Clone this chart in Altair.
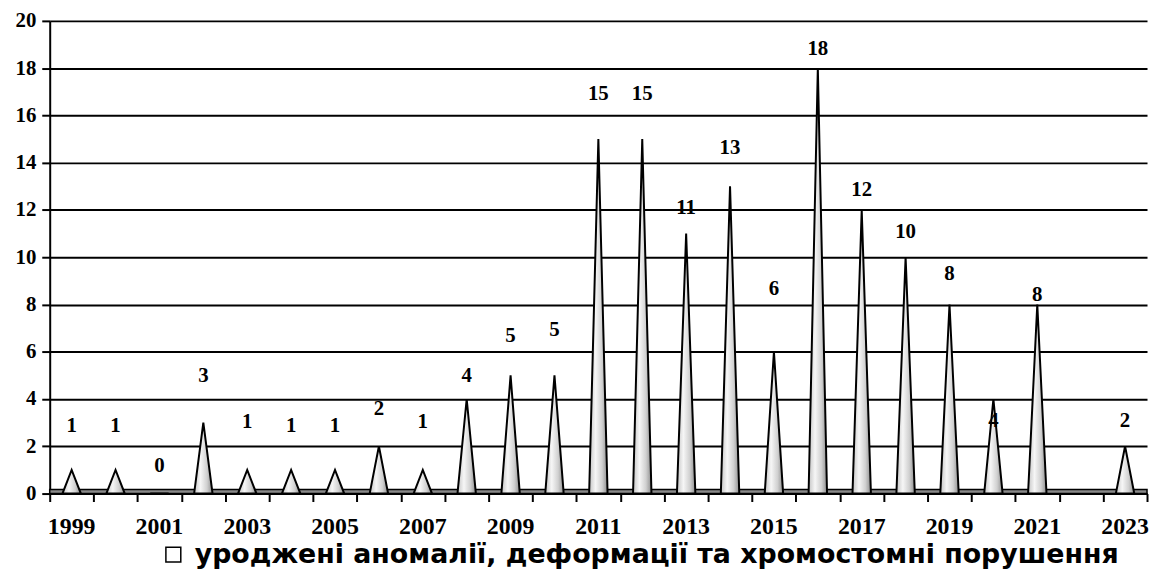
import altair as alt
import pandas as pd

years = list(range(1999, 2024))
values = [1, 1, 0, 3, 1, 1, 1, 2, 1, 4, 5, 5, 15, 15, 11, 13, 6, 18, 12, 10, 8, 4, 8, None, 2]
label_y = [2.87, 2.87, 1.18, 4.96, 3.02, 2.84, 2.84, 3.57, 3.02, 4.96, 6.68, 6.93, 16.9, 16.9,
           12.06, 14.6, 8.66, 18.8, 12.86, 11.05, 9.29, 3.07, 8.4, None, 3.08]
year_labels = [y for y in years if y % 2 == 1]
series_name = "уроджені аномалії, деформації та хромостомні порушення"

df = pd.DataFrame({"year": years, "value": values, "label_y": label_y})
df = df.dropna().copy()
df["series"] = series_name
df_years = pd.DataFrame({"year": year_labels})

SERIF = "Liberation Serif"
SANS = "DejaVu Sans"

half_ticks = [y - 0.5 for y in years] + [years[-1] + 0.5]

x_scale = alt.Scale(domain=[1998.5, 2023.5], nice=False, zero=False)
y_scale = alt.Scale(domain=[0, 20], nice=False)

x_axis = alt.Axis(
    values=half_ticks, labels=False,
    tickSize=8, tickWidth=2, tickColor="black",
    domainColor="black", domainWidth=2,
    grid=False, title=None,
)
y_axis = alt.Axis(
    values=list(range(0, 21, 2)),
    tickSize=8, tickWidth=2, tickColor="black",
    domainColor="black", domainWidth=2,
    labelFont=SERIF, labelFontWeight="bold", labelFontSize=21, labelColor="black",
    labelPadding=6, labelOverlap=False,
    grid=True, gridColor="black", gridWidth=2, gridOpacity=1,
    title=None,
)

base = alt.Chart(df)

floor = base.mark_rect(fill="#8a8a8a", stroke="black", strokeWidth=1.5).encode(
    x=alt.value(0), x2=alt.value(1105),
    y=alt.Y(datum=0, scale=y_scale, axis=y_axis), y2=alt.value(472),
).transform_filter("datum.year === 1999")

grad = alt.LinearGradient(
    gradient="linear",
    stops=[
        alt.GradientStop(color="#c4c4c4", offset=0),
        alt.GradientStop(color="#f6f6f6", offset=0.35),
        alt.GradientStop(color="#d0d0d0", offset=0.7),
        alt.GradientStop(color="#8e8e8e", offset=1),
    ],
    x1=0, x2=1, y1=0, y2=0,
)

cones = base.mark_area(fill=grad, stroke="black", strokeWidth=2, strokeJoin="miter").transform_calculate(
    k="[-1, 0, 1]"
).transform_flatten(["k"]).transform_calculate(
    xpos="datum.year + datum.k * 0.21",
    ypos="datum.k === 0 ? datum.value : 0",
).encode(
    x=alt.X("xpos:Q", scale=x_scale, axis=x_axis),
    y=alt.Y("ypos:Q", scale=y_scale, axis=y_axis, stack=None),
    detail="year:N",
)

legend_layer = base.mark_square(fill="white", filled=True, strokeWidth=1.5, opacity=1).encode(
    x=alt.X("year:Q", scale=x_scale, axis=x_axis),
    y=alt.Y("value:Q", scale=y_scale, axis=y_axis),
    stroke=alt.Stroke(
        "series:N",
        scale=alt.Scale(domain=[series_name], range=["black"]),
        legend=alt.Legend(
            title=None, orient="none", legendX=111, legendY=524,
            symbolType="square", symbolSize=225,
            symbolStrokeWidth=1.5, symbolFillColor="white", symbolStrokeColor="black",
            labelFont=SANS, labelFontWeight="bold", labelFontSize=27,
            labelColor="black", labelLimit=0, labelOffset=8,
        ),
    ),
).transform_filter("false")

labels = base.mark_text(font=SERIF, fontWeight="bold", fontSize=21, color="black",
                        baseline="middle", align="center").encode(
    x=alt.X("year:Q", scale=x_scale, axis=x_axis),
    y=alt.Y("label_y:Q", scale=y_scale, axis=y_axis),
    text=alt.Text("value:Q", format="d"),
)

year_text = alt.Chart(df_years).mark_text(
    font=SERIF, fontWeight="bold", fontSize=24, color="black",
    baseline="middle", align="center",
).encode(
    x=alt.X("year:Q", scale=x_scale, axis=x_axis),
    y=alt.value(510),
    text=alt.Text("year:Q", format="d"),
)

chart = alt.layer(floor, cones, labels, year_text, legend_layer).properties(
    width=1105, height=476,
    autosize=alt.AutoSizeParams(type="none"),
    padding={"left": 42, "top": 11, "right": 2, "bottom": 75},
).configure_view(stroke=None)

chart.save("out.html", embed_options={"renderer": "svg", "actions": False})
